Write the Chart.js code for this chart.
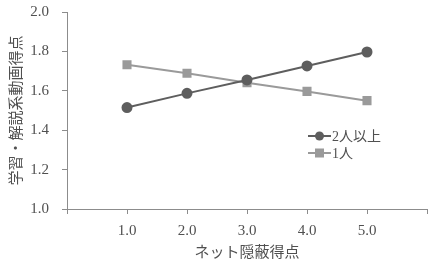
<!DOCTYPE html>
<html lang="ja">
<head>
    <meta charset="UTF-8">
    <title>ネット隠蔽得点</title>
    <script src="https://cdn.jsdelivr.net/npm/chart.js"></script>
    <style>
        html, body { margin: 0; padding: 0; background: #ffffff; }
        #wrap { position: relative; width: 429px; height: 262px; }
    </style>
</head>
<body>
    <div id="wrap"><canvas id="chart" width="429" height="262"></canvas></div>
    <script>
        // data
        const xValues = [1, 2, 3, 4, 5];
        const multiValues = [1.515, 1.587, 1.655, 1.726, 1.797];   // 2人以上
        const singleValues = [1.732, 1.689, 1.641, 1.597, 1.550];  // 1人
        const seriesNames = ['2人以上', '1人'];
        const yTicks = [1.0, 1.2, 1.4, 1.6, 1.8, 2.0];
        const xTicks = [1, 2, 3, 4, 5];

        const serif = '"Liberation Serif", "DejaVu Serif", "Noto Sans CJK JP", serif';
        const axisGrey = '#8c8c8c';
        const textGrey = '#505050';

        function toPoints(vals) {
            return xValues.map((x, i) => ({ x: x, y: vals[i] }));
        }

        // legend drawn inside the plot area
        const innerLegend = {
            id: 'innerLegend',
            afterDraw(chart) {
                const ctx = chart.ctx;
                const x0 = 308, rows = [136, 153];
                ctx.save();
                chart.data.datasets.forEach((ds, i) => {
                    const y = rows[i];
                    ctx.strokeStyle = ds.borderColor;
                    ctx.lineWidth = 2;
                    ctx.beginPath();
                    ctx.moveTo(x0, y);
                    ctx.lineTo(x0 + 23, y);
                    ctx.stroke();
                    ctx.fillStyle = ds.backgroundColor;
                    if (ds.pointStyle === 'rect') {
                        ctx.fillRect(x0 + 7, y - 4.5, 9, 9);
                    } else {
                        ctx.beginPath();
                        ctx.arc(x0 + 11.5, y, 4.5, 0, Math.PI * 2);
                        ctx.fill();
                    }
                    ctx.fillStyle = textGrey;
                    ctx.font = '14px ' + serif;
                    ctx.textBaseline = 'middle';
                    ctx.fillText(ds.label, x0 + 24, y + 1);
                });
                ctx.restore();
            }
        };

        const ctx = document.getElementById('chart').getContext('2d');
        new Chart(ctx, {
            type: 'scatter',
            data: {
                datasets: [{
                    label: seriesNames[0],
                    data: toPoints(multiValues),
                    showLine: true,
                    borderColor: '#5e5e5e',
                    backgroundColor: '#5e5e5e',
                    borderWidth: 2,
                    pointStyle: 'circle',
                    pointRadius: 4.5,
                    pointHoverRadius: 4.5
                }, {
                    label: seriesNames[1],
                    data: toPoints(singleValues),
                    showLine: true,
                    borderColor: '#9a9a9a',
                    backgroundColor: '#9a9a9a',
                    borderWidth: 2,
                    pointStyle: 'rect',
                    pointRadius: 5,
                    pointHoverRadius: 5
                }]
            },
            options: {
                responsive: false,
                animation: false,
                layout: { autoPadding: false, padding: { left: 0, right: 2, top: 12, bottom: 0 } },
                plugins: {
                    legend: { display: false },
                    tooltip: { enabled: false }
                },
                scales: {
                    x: {
                        type: 'linear',
                        min: 0,
                        max: 6,
                        afterBuildTicks: (scale) => {
                            scale.ticks = [0].concat(xTicks, [6]).map(v => ({ value: v }));
                        },
                        afterFit: (scale) => {
                            scale.height = 53;
                            scale.paddingLeft = 0;
                            scale.paddingRight = 0;
                        },
                        ticks: {
                            color: textGrey,
                            font: { family: serif, size: 15 },
                            padding: 8,
                            maxRotation: 0,
                            callback: (v) => xTicks.includes(v) ? v.toFixed(1) : ''
                        },
                        grid: { drawOnChartArea: false, tickLength: 5, color: axisGrey },
                        border: { color: axisGrey, width: 1 },
                        title: {
                            display: true,
                            text: 'ネット隠蔽得点',
                            color: textGrey,
                            font: { family: serif, size: 15 },
                            padding: { top: 9, bottom: 0 }
                        }
                    },
                    y: {
                        min: 1.0,
                        max: 2.0,
                        afterBuildTicks: (scale) => {
                            scale.ticks = yTicks.map(v => ({ value: v }));
                        },
                        afterFit: (scale) => {
                            scale.width = 67;
                            scale.paddingTop = 0;
                            scale.paddingBottom = 0;
                        },
                        ticks: {
                            color: textGrey,
                            font: { family: serif, size: 15 },
                            padding: 13,
                            callback: (v) => v.toFixed(1)
                        },
                        grid: { drawOnChartArea: false, tickLength: 5, color: axisGrey },
                        border: { color: axisGrey, width: 1 },
                        title: {
                            display: true,
                            text: '学習・解説系動画得点',
                            color: textGrey,
                            font: { family: serif, size: 15 },
                            padding: { top: 8, bottom: 0 }
                        }
                    }
                }
            },
            plugins: [innerLegend]
        });
    </script>
</body>
</html>
